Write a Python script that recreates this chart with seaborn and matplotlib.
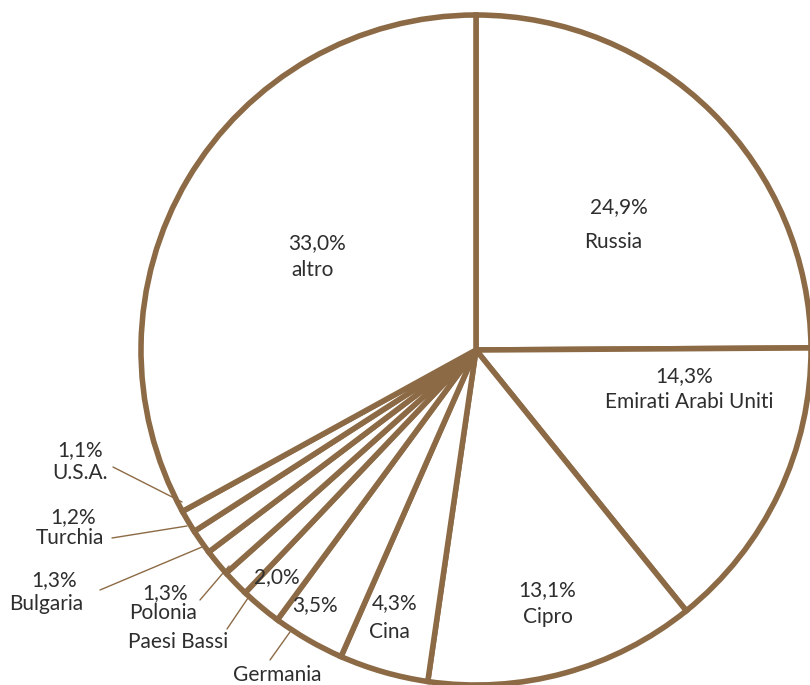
import matplotlib
matplotlib.use("Agg")
import matplotlib.pyplot as plt
import seaborn as sns

sns.set_style("white")
plt.rcParams["font.family"] = ["Lato", "DejaVu Sans"]

countries = ["Russia", "Emirati Arabi Uniti", "Cipro", "Cina", "Germania",
             "Paesi Bassi", "Polonia", "Bulgaria", "Turchia", "U.S.A.", "altro"]
shares = [24.9, 14.3, 13.1, 4.3, 3.5, 2.0, 1.3, 1.3, 1.2, 1.1, 33.0]

EDGE = "#8c6a45"
TEXT = "#2e2e2e"

# pixel layout of the reference: centre (476, 350), radius 335
CX, CY, R = 476, 350, 335


def px(x, y):
    return ((x - CX) / R, (CY - y) / R)


fig = plt.figure(figsize=(8.1, 6.85), dpi=100)
ax = fig.add_axes([0, 0, 1, 1])
ax.pie(shares, startangle=90, counterclock=False, radius=1,
       colors=["white"] * len(shares),
       wedgeprops=dict(edgecolor=EDGE, linewidth=4, joinstyle="miter"))
ax.set_xlim(-CX / R, (810 - CX) / R)
ax.set_ylim(-(685 - CY) / R, CY / R)
ax.set_aspect("equal")
ax.axis("off")

pct = [f"{v:.1f}".replace(".", ",") + "%" for v in shares]
fs = 15

# labels inside the larger slices: (percent pos, name pos)
inside = {
    0: ((619, 207), (613, 242)),
    1: ((684, 376), (689, 402)),
    2: ((547, 590), (548, 617)),
    3: ((395, 603), (389, 632)),
    10: ((317, 243), (313, 270)),
}
for i, (p1, p2) in inside.items():
    ax.text(*px(*p1), pct[i], ha="center", va="center", fontsize=fs, color=TEXT)
    ax.text(*px(*p2), countries[i], ha="center", va="center", fontsize=fs, color=TEXT)

# small slices: percent inside, name outside
ax.text(*px(315, 605), pct[4], ha="center", va="center", fontsize=fs, color=TEXT)
ax.text(*px(277, 675), countries[4], ha="center", va="center", fontsize=fs, color=TEXT)
ax.text(*px(277, 577), pct[5], ha="center", va="center", fontsize=fs, color=TEXT)
ax.text(*px(178, 642), countries[5], ha="center", va="center", fontsize=fs, color=TEXT)

outside = {
    6: ((165, 593), (163, 613)),
    7: ((54, 580), (46, 604)),
    8: ((73, 517), (70, 538)),
    9: ((80, 450), (80, 473)),
}
for i, (p1, p2) in outside.items():
    ax.text(*px(*p1), pct[i], ha="center", va="center", fontsize=fs, color=TEXT)
    ax.text(*px(*p2), countries[i], ha="center", va="center", fontsize=fs, color=TEXT)

# leader lines
leaders = [
    ((270, 660), (290, 632)),
    ((227, 629), (248, 598)),
    ((200, 600), (229, 566)),
    ((100, 590), (202, 547)),
    ((112, 538), (187, 526)),
    ((113, 467), (182, 502)),
]
for a, b in leaders:
    (x0, y0), (x1, y1) = px(*a), px(*b)
    ax.plot([x0, x1], [y0, y1], color=EDGE, linewidth=1)

fig.savefig("out.png", dpi=100, facecolor="white")
